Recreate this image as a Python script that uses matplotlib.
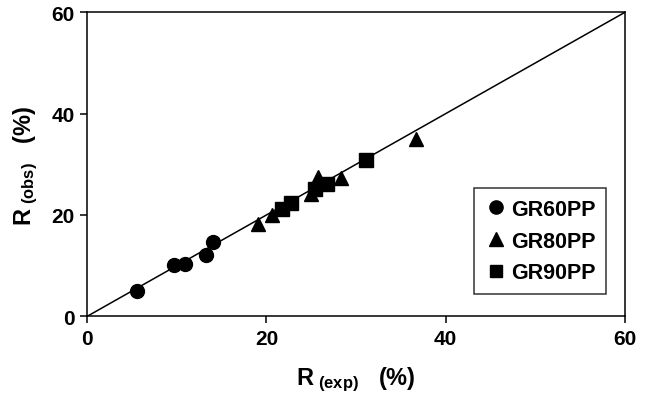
import matplotlib
matplotlib.use("Agg")
import matplotlib.pyplot as plt

plt.rcParams['font.family'] = ['Liberation Sans', 'DejaVu Sans']
plt.rcParams['font.weight'] = 'bold'
plt.rcParams['mathtext.fontset'] = 'custom'
plt.rcParams['mathtext.rm'] = 'Liberation Sans:bold'
plt.rcParams['mathtext.it'] = 'Liberation Sans:bold'
plt.rcParams['mathtext.bf'] = 'Liberation Sans:bold'

# Data
gr60_x = [5.5, 9.7, 10.9, 13.2, 14.0]
gr60_y = [5.0, 10.1, 10.3, 12.0, 14.6]
gr80_x = [19.0, 20.6, 25.0, 25.8, 28.3, 36.7]
gr80_y = [18.2, 19.9, 24.2, 27.5, 27.3, 34.9]
gr90_x = [21.7, 22.7, 25.4, 26.7, 31.1]
gr90_y = [21.2, 22.3, 25.2, 26.1, 30.8]
line_x = [0, 60]
line_y = [0, 60]
ticks = [0, 20, 40, 60]

fig = plt.figure(figsize=(6.46, 4.02), dpi=100)
ax = fig.add_axes([0.135, 0.2107, 0.8325, 0.7563])

ax.plot(line_x, line_y, color='black', lw=1.1, zorder=1)
ax.plot(gr60_x, gr60_y, 'o', color='black', ms=10, ls='none', label='GR60PP', zorder=2)
ax.plot(gr80_x, gr80_y, '^', color='black', ms=10, ls='none', label='GR80PP', zorder=2)
ax.plot(gr90_x, gr90_y, 's', color='black', ms=9.5, ls='none', label='GR90PP', zorder=2)

ax.set_xlim(0, 60)
ax.set_ylim(0, 60)
ax.set_xticks(ticks)
ax.set_yticks(ticks)
ax.tick_params(direction='out', length=5, width=1.1, labelsize=15, pad=4)
for lbl in ax.get_xticklabels() + ax.get_yticklabels():
    lbl.set_fontweight('bold')
for s in ax.spines.values():
    s.set_linewidth(1.1)

ax.set_xlabel(r"R$_{\ \mathrm{(exp)}}$   (%)", fontsize=17, fontweight='bold', labelpad=12)
ax.set_ylabel(r"R$_{\ \mathrm{(obs)}}$   (%)", fontsize=17, fontweight='bold', labelpad=8)

leg = ax.legend(loc='lower right', bbox_to_anchor=(0.965, 0.073), fontsize=15.5,
                frameon=True, fancybox=False, edgecolor='black', handletextpad=0.2,
                handlelength=1.0, borderpad=0.5, labelspacing=0.5, markerscale=0.95,
                borderaxespad=0)
leg.get_frame().set_linewidth(1.1)
for t in leg.get_texts():
    t.set_fontweight('bold')

fig.savefig('out.png', dpi=100)
